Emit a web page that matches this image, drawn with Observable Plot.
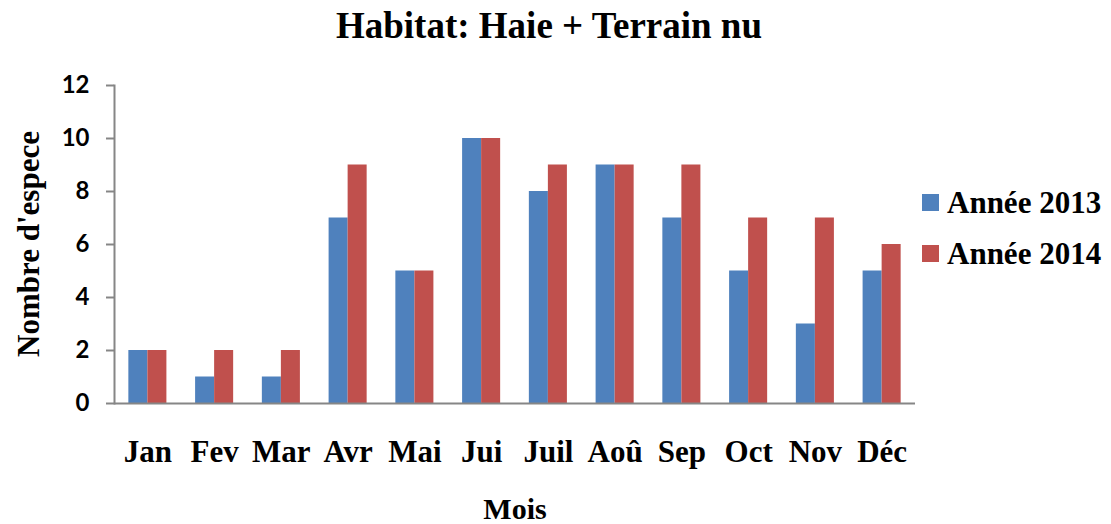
<!DOCTYPE html>
<html>
<head>
<meta charset="utf-8">
<script src="https://cdn.jsdelivr.net/npm/d3@7"></script>
<script src="https://cdn.jsdelivr.net/npm/@observablehq/plot@0.6"></script>
<style>
  html, body { margin: 0; padding: 0; background: #fff; }
  #wrap { position: relative; width: 1111px; height: 524px; overflow: hidden; }
  #chart { position: absolute; left: 0; top: 0; }
  .serif { font-family: "Liberation Serif", "Times New Roman", serif; font-weight: bold; color: #000; position: absolute; white-space: nowrap; line-height: 1; }
  #title { font-size: 37px; left: 0; width: 1098px; text-align: center; top: 7px; }
  #xlabel { font-size: 30px; left: 0; width: 1030px; text-align: center; top: 494px; }
  #ylabel { font-size: 31px; left: 28px; top: 244px; transform: translate(-50%, -50%) rotate(-90deg); }
  .leg { font-size: 31px; left: 922px; display: flex; align-items: center; }
  .sw { width: 17px; height: 17px; margin-right: 8px; display: inline-block; }
</style>
</head>
<body>
<div id="wrap">
  <div id="chart"></div>
  <div id="title" class="serif"></div>
  <div id="ylabel" class="serif"></div>
  <div id="xlabel" class="serif"></div>
  <div id="legend"></div>
</div>
<script>
const titleText = "Habitat: Haie + Terrain nu";
const xTitle = "Mois";
const yTitle = "Nombre d'espece";
const months = ["Jan", "Fev", "Mar", "Avr", "Mai", "Jui", "Juil", "Aoû", "Sep", "Oct", "Nov", "Déc"];
const series = ["Année 2013", "Année 2014"];
const values2013 = [2, 1, 1, 7, 5, 10, 8, 9, 7, 5, 3, 5];
const values2014 = [2, 2, 2, 9, 5, 10, 9, 9, 9, 7, 7, 6];
const colors = ["#4F81BD", "#C0504D"];
const yTicks = [0, 2, 4, 6, 8, 10, 12];

const rows2013 = months.map((m, i) => ({month: m, serie: series[0], value: values2013[i]}));
const rows2014 = months.map((m, i) => ({month: m, serie: series[1], value: values2014[i]}));

const W = 1111, H = 524;
const marginLeft = 114, marginRight = 196, marginTop = 85, marginBottom = 121;
const plotW = W - marginLeft - marginRight;
const step = plotW / months.length;
const half = step * (1 - 0.43) / 2;

const chart = Plot.plot({
  width: W,
  height: H,
  marginLeft, marginRight, marginTop, marginBottom,
  style: {background: "#fff", color: "#000"},
  x: {domain: months, paddingInner: 0.43, paddingOuter: 0.215, round: false, axis: null},
  y: {domain: [0, 12], axis: null},
  color: {domain: series, range: colors},
  marks: [
    Plot.barY(rows2013, {x: "month", y: "value", fill: "serie", insetRight: half, insetLeft: 0}),
    Plot.barY(rows2014, {x: "month", y: "value", fill: "serie", insetLeft: half, insetRight: 0}),
    Plot.axisY({ticks: yTicks, tickSize: 8, tickPadding: 17, stroke: "#868686", strokeWidth: 2, tickFormat: d => String(d), label: null, fill: "#000",
      fontSize: 24, fontWeight: "bold", fontFamily: "Lato, 'Liberation Sans', sans-serif"}),
    Plot.axisX({tickSize: 0, tickPadding: 36, label: null, fill: "#000",
      fontSize: 31, fontWeight: "bold", fontFamily: "'Liberation Serif', 'Times New Roman', serif"}),
    Plot.frame({anchor: "left", stroke: "#868686", strokeWidth: 2}),
    Plot.ruleY([0], {stroke: "#868686", strokeWidth: 2})
  ]
});
document.getElementById("chart").appendChild(chart);

document.getElementById("title").textContent = titleText;
document.getElementById("xlabel").textContent = xTitle;
document.getElementById("ylabel").textContent = yTitle;

const legend = document.getElementById("legend");
const legTops = [187, 238];
series.forEach((s, i) => {
  const row = document.createElement("div");
  row.className = "serif leg";
  row.style.top = legTops[i] + "px";
  const sw = document.createElement("span");
  sw.className = "sw";
  sw.style.background = colors[i];
  row.appendChild(sw);
  row.appendChild(document.createTextNode(s));
  legend.appendChild(row);
});
</script>
</body>
</html>
